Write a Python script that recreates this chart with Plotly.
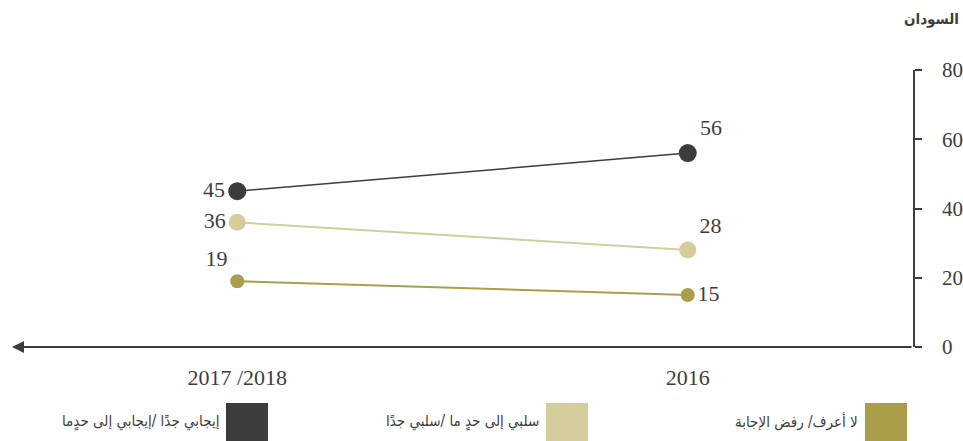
import plotly.graph_objects as go

# ---- data ----
categories = ["2016", "2017 /2018"]
series_names = ["لا أعرف/ رفض الإجابة", "سلبي إلى حدٍ ما /سلبي جدًا", "إيجابي جدًا /إيجابي إلى حدٍما"]
val_dontknow = [15, 19]
val_negative = [28, 36]
val_positive = [56, 45]
y_ticks = [0, 20, 40, 60, 80]
title_text = "السودان"

series_values = [val_dontknow, val_negative, val_positive]
colors = ["#aa9e4a", "#d6cd9d", "#3d3d3d"]
marker_sizes = [14, 17, 18]
line_widths = [2, 2, 1.5]
text_positions = [
    ["middle right", "top left"],
    ["top right", "middle left"],
    ["top right", "middle left"],
]

SERIF = "Liberation Serif"
ARABIC = "DejaVu Sans Condensed, DejaVu Sans"
TXT = "#3d3d3d"

W, H = 963, 441
ML, MR, MT, MB = 12, 50, 70, 94
PW, PH = W - ML - MR, H - MT - MB  # 901 x 277

fig = go.Figure()
for name, vals, col, ms, lw, tp in zip(series_names, series_values, colors,
                                       marker_sizes, line_widths, text_positions):
    fig.add_trace(go.Scatter(
        x=categories, y=vals, name=name, mode="lines+markers+text",
        line=dict(color=col, width=lw),
        marker=dict(color=col, size=ms),
        text=[str(v) for v in vals], textposition=tp,
        textfont=dict(family=SERIF, size=22, color=TXT),
        showlegend=False, cliponaxis=False,
    ))

fig.update_layout(
    width=W, height=H,
    margin=dict(l=ML, r=MR, t=MT, b=MB, autoexpand=False),
    paper_bgcolor="white", plot_bgcolor="white",
    showlegend=False,
    xaxis=dict(
        type="category", range=[1.5, -0.5], automargin=False,
        showgrid=False, zeroline=False, showline=False,
        ticks="", tickfont=dict(family=SERIF, size=22, color=TXT),
        ticklabelstandoff=15,
    ),
    yaxis=dict(
        range=[0, 80], side="right", tickvals=y_ticks, automargin=False,
        showgrid=False, zeroline=False,
        showline=True, linecolor=TXT, linewidth=1.5,
        ticks="outside", ticklen=7, tickwidth=1.5, tickcolor=TXT,
        tickfont=dict(family=SERIF, size=21, color=TXT),
        ticklabelstandoff=16,
    ),
)

# x-axis line with arrow pointing left (RTL)
fig.add_annotation(
    xref="x domain", yref="y domain", x=0, y=0,
    axref="x domain", ayref="y domain", ax=1.0, ay=0,
    showarrow=True, arrowhead=2, arrowsize=1.2,
    arrowwidth=2, arrowcolor=TXT, text="",
)

# title
fig.add_annotation(
    xref="paper", yref="paper", x=1.0, y=1.0, xanchor="right", yanchor="middle",
    xshift=48, yshift=51, text="<b>" + title_text + "</b>", showarrow=False,
    font=dict(family=ARABIC, size=15, color=TXT),
)

# custom RTL legend (square on the right, label on its left)
legend_right_px = [907, 588, 268]   # page pixels
for name, col, rx in zip(series_names, colors, legend_right_px):
    x1 = (rx - ML) / PW
    x0 = (rx - 42 - ML) / PW
    fig.add_shape(type="rect", xref="paper", yref="paper",
                  x0=x0, x1=x1, y0=(347 - 445) / PH, y1=(347 - 403) / PH,
                  fillcolor=col, line=dict(width=0))
    fig.add_annotation(
        xref="paper", yref="paper", x=x0, y=(347 - 421) / PH,
        xanchor="right", yanchor="middle", xshift=-5, showarrow=False,
        text=name, font=dict(family=ARABIC, size=15, color=TXT),
    )

fig.write_html(
    "out.html",
    config={"displayModeBar": False},
    post_script="document.body.style.margin='0';document.body.style.overflow='hidden';",
)
